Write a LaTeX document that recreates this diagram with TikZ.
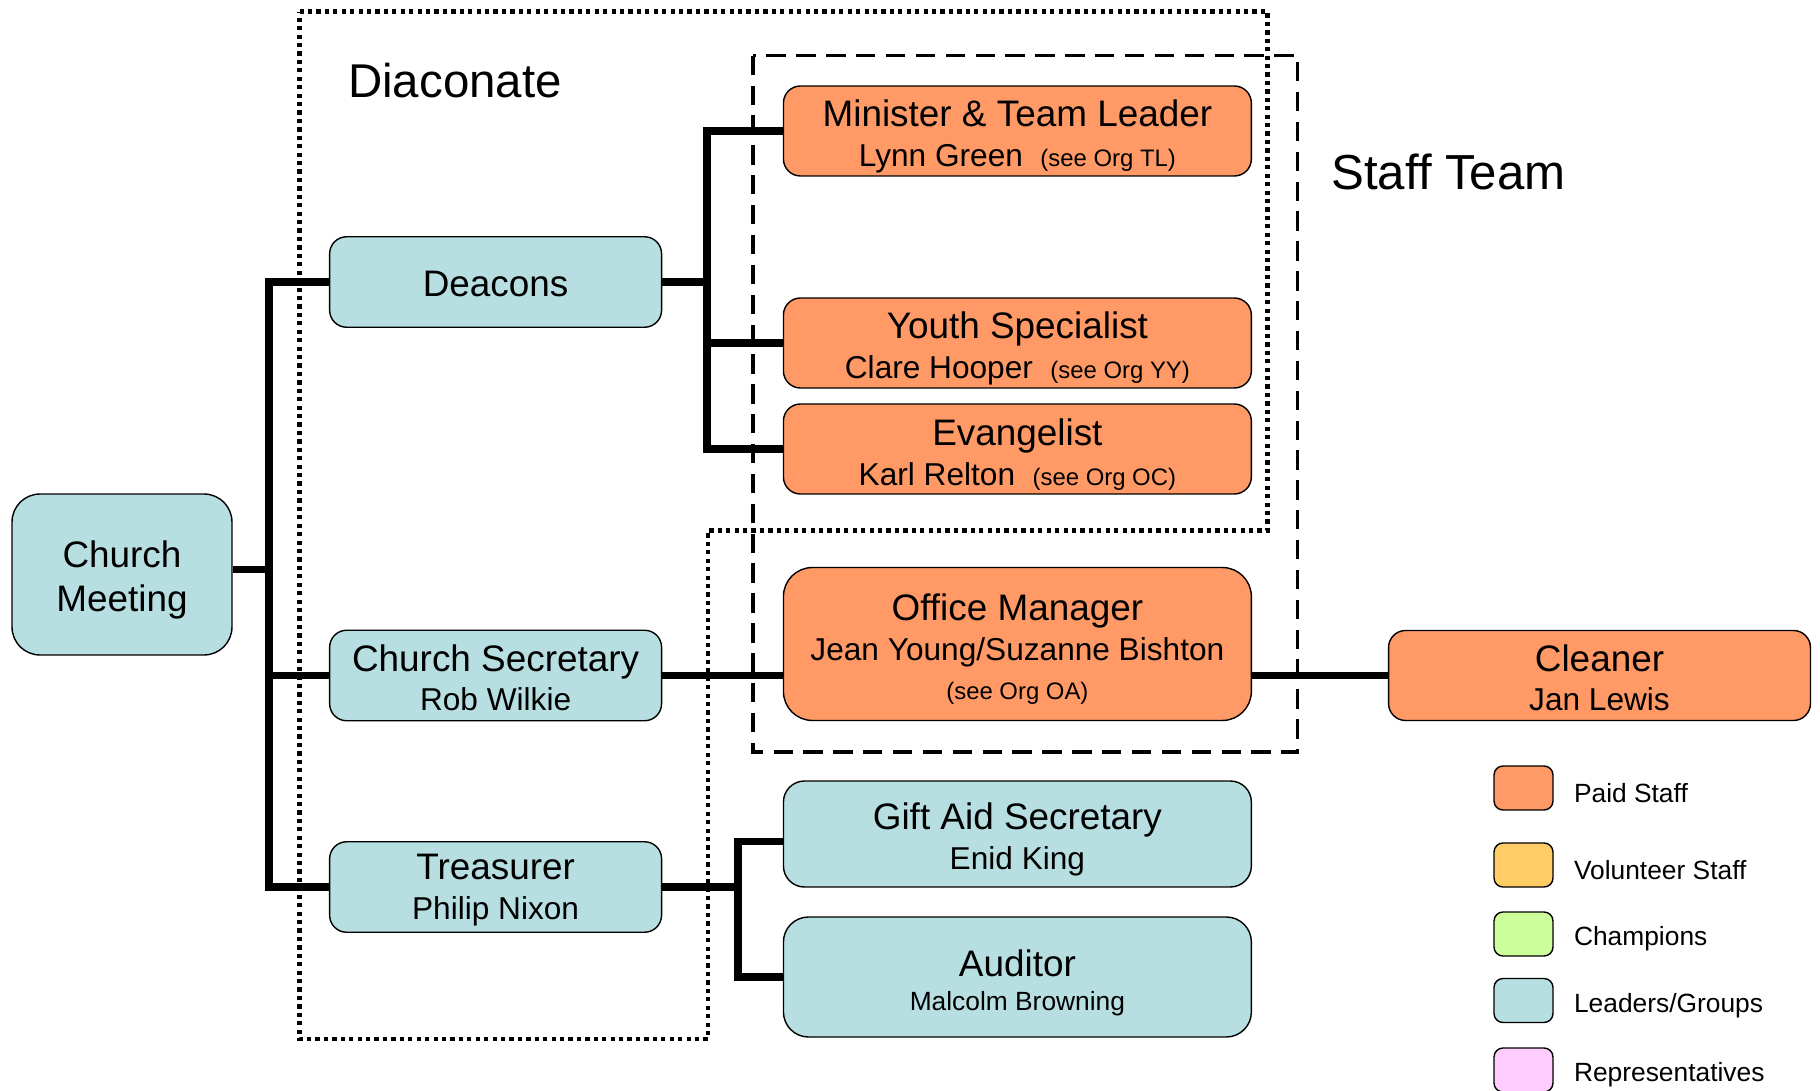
\documentclass[tikz,border=0pt]{standalone}
\usepackage{fontspec}
\setmainfont{Liberation Sans}
\usetikzlibrary{positioning}
\definecolor{paid}{HTML}{FF9966}
\definecolor{volunteer}{HTML}{FFCC66}
\definecolor{champion}{HTML}{CCFF99}
\definecolor{leader}{HTML}{B7DFE1}
\definecolor{rep}{HTML}{FFCCFF}
\newcommand{\ttl}{\fontsize{21}{22.5}\selectfont}
\newcommand{\nm}{\fontsize{18}{21}\selectfont}
\newcommand{\org}[1]{\hspace{0.35cm}{\fontsize{13.6}{16}\selectfont #1}}
\newcommand{\lift}[1][21.5pt]{\rule{0pt}{#1}}
\tikzset{
  box/.style={draw=black, line width=0.8pt, rounded corners=0.34cm, align=center, inner sep=0pt, font=\ttl},
  leftbox/.style={box, fill=leader, minimum width=6.64cm, minimum height=1.81cm},
  staffbox/.style={box, fill=paid, minimum width=9.36cm, minimum height=1.8cm},
  link/.style={line width=4.2pt},
  diac/.style={line width=2.4pt, dash pattern=on 2.4pt off 2.4pt},
  staffline/.style={line width=2pt, dash pattern=on 11pt off 6pt},
  keybox/.style={draw=black, line width=0.8pt, rounded corners=0.18cm, minimum width=1.18cm, minimum height=0.88cm, inner sep=0pt},
  keytext/.style={right=0.4cm of #1, yshift=-0.1cm, font=\fontsize{15}{18}\selectfont, inner sep=0pt}
}
\begin{document}
\begin{tikzpicture}[x=0.02cm,y=-0.02cm]
\useasboundingbox (0,0) rectangle (1820,1091);
% group outlines
\draw[diac] (299.5,11.6) -- (1267.5,11.6) -- (1267.5,530.5) -- (708,530.5) -- (708,1039) -- (299.5,1039) -- cycle;
\draw[staffline] (753,55.7) rectangle (1297.7,752);
\node[font=\fontsize{27}{30}\selectfont] (diaconate) at (455,81) {Diaconate};
\node[font=\fontsize{28}{30}\selectfont] (staffteam) at (1448.5,172) {Staff Team};

\node[leftbox, minimum width=4.4cm, minimum height=3.22cm, rounded corners=0.56cm] (meeting) at (122,574.5) {\lift Church\\[3pt]Meeting};
\node[leftbox] (deacons) at (495.6,282) {\lift[17pt]Deacons};
\node[leftbox] (secretary) at (495.6,675.5) {\lift[18pt]Church Secretary\\{\nm Rob Wilkie}};
\node[leftbox] (treasurer) at (495.6,887) {\lift[18pt]Treasurer\\{\nm Philip Nixon}};

\node[staffbox] (minister) at (1017.4,131) {\lift Minister \& Team Leader\\{\nm Lynn Green\org{(see Org TL)}}};
\node[staffbox] (youth) at (1017.4,343) {\lift Youth Specialist\\{\nm Clare Hooper\org{(see Org YY)}}};
\node[staffbox] (evangelist) at (1017.4,449) {\lift Evangelist\\{\nm Karl Relton\org{(see Org OC)}}};
\node[staffbox, minimum height=3.06cm, rounded corners=0.58cm] (office) at (1017.4,644) {\lift Office Manager\\{\nm Jean Young/Suzanne Bishton}\\{\fontsize{13.6}{16}\selectfont (see Org OA)}};
\node[staffbox, minimum width=8.44cm] (cleaner) at (1599.5,675.5) {\lift[18pt]Cleaner\\{\nm Jan Lewis}};
\node[leftbox, minimum width=9.36cm, minimum height=2.12cm, rounded corners=0.42cm] (giftaid) at (1017.4,834) {\lift Gift Aid Secretary\\{\nm Enid King}};
\node[leftbox, minimum width=9.36cm, minimum height=2.4cm, rounded corners=0.5cm] (auditor) at (1017.4,977) {\lift[22pt]Auditor\\[-3.5pt]{\fontsize{15}{18}\selectfont Malcolm Browning}};

% lines
\coordinate (spineA) at (269,0);
\coordinate (spineB) at (707,0);
\coordinate (spineC) at (738,0);
\draw[link] ([yshift=0.1cm]meeting.east) -- ([yshift=0.1cm]meeting.east -| spineA);
\draw[link] (deacons.west) -| (treasurer.west -| spineA) -- (treasurer.west);
\draw[link] (secretary.west) -- (secretary.west -| spineA);
\draw[link] (deacons.east) -- (deacons.east -| spineB);
\draw[link] (minister.west) -| (evangelist.west -| spineB) -- (evangelist.west);
\draw[link] (youth.west) -- (youth.west -| spineB);
\draw[link] (secretary.east) -- (secretary.east -| office.west);
\draw[link] (secretary.east -| office.east) -- (cleaner.west);
\draw[link] (treasurer.east) -- (treasurer.east -| spineC);
\draw[link] ([yshift=-0.15cm]giftaid.west) -| (auditor.west -| spineC) -- (auditor.west);

% key
\node[keybox, fill=paid] (kpaid) at (1523.5,788) {};
\node[keytext=kpaid] (tpaid) {Paid Staff};
\node[keybox, fill=volunteer] (kvol) at (1523.5,865) {};
\node[keytext=kvol] (tvol) {Volunteer Staff};
\node[keybox, fill=champion] (kchamp) at (1523.5,934) {};
\node[keytext=kchamp] (tchamp) {Champions};
\node[keybox, fill=leader] (klead) at (1523.5,1000.5) {};
\node[keytext=klead] (tlead) {Leaders/Groups};
\node[keybox, fill=rep] (krep) at (1523.5,1070) {};
\node[keytext=krep] (trep) {Representatives};
\end{tikzpicture}
\end{document}
